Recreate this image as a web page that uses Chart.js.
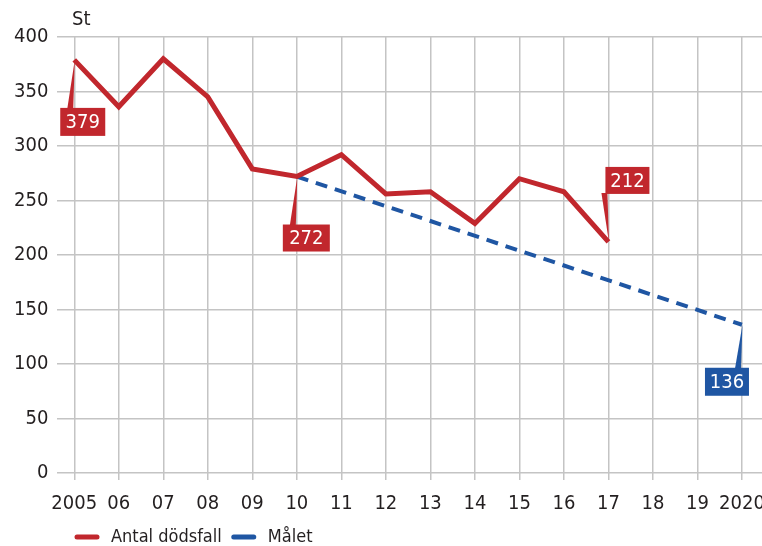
<!DOCTYPE html>
<html lang="sv">
<head>
  <meta charset="UTF-8" />
  <title>Antal dödsfall</title>
  <style>
    body { margin: 0; background: #fff; }
    #wrap { width: 762px; height: 546px; position: relative; }
  </style>
</head>
<body>
<div id="wrap"><canvas id="chart"></canvas></div>
<script src="https://cdn.jsdelivr.net/npm/chart.js"></script>
<script>
  // data
  const deathYears = [2005, 2006, 2007, 2008, 2009, 2010, 2011, 2012, 2013, 2014, 2015, 2016, 2017];
  const deaths = [379, 336, 380, 345, 279, 272, 292, 256, 258, 229, 270, 258, 212];
  const goalYears = [2010, 2020];
  const goal = [272, 136];
  const xTickYears = [2005, 2006, 2007, 2008, 2009, 2010, 2011, 2012, 2013, 2014, 2015, 2016, 2017, 2018, 2019, 2020];
  const xTickLabels = ['2005', '06', '07', '08', '09', '10', '11', '12', '13', '14', '15', '16', '17', '18', '19', '2020'];

  const RED = '#c1272d';
  const BLUE = '#1f56a3';
  const TEXT = '#231f20';
  const FONT = "'Liberation Sans Narrow', 'DejaVu Sans Condensed', sans-serif";

  // callout boxes: which point, box offset from the point, and where the wedge leaves the box
  const callouts = [
    { ds: 0, i: 0, dx: -14, dy: 48, w: 45, h: 28, side: 'top', color: RED },
    { ds: 0, i: 5, dx: -14, dy: 48, w: 47, h: 27, side: 'top', color: RED },
    { ds: 0, i: 12, dx: -3, dy: -75, w: 44, h: 27, side: 'bottom', color: RED },
    { ds: 1, i: 1, dx: -37, dy: 43, w: 44, h: 28, side: 'top', color: BLUE }
  ];

  const calloutPlugin = {
    id: 'callouts',
    afterDatasetsDraw(chart) {
      const ctx = chart.ctx;
      ctx.save();
      callouts.forEach(c => {
        const pt = chart.getDatasetMeta(c.ds).data[c.i];
        const px = pt.x, py = pt.y;
        const bx = px + c.dx, by = py + c.dy;
        ctx.fillStyle = c.color;
        // wedge
        const baseY = c.side === 'top' ? by + 1 : by + c.h - 1;
        const baseX = px - 4;
        ctx.beginPath();
        ctx.moveTo(px + 0.5, py);
        ctx.lineTo(baseX - 3, baseY);
        ctx.lineTo(baseX + 3, baseY);
        ctx.closePath();
        ctx.fill();
        // box
        ctx.fillRect(bx, by, c.w, c.h);
        ctx.fillStyle = '#fff';
        ctx.font = '20px ' + FONT;
        ctx.textAlign = 'center';
        ctx.textBaseline = 'middle';
        const v = chart.data.datasets[c.ds].data[c.i].y;
        ctx.fillText(String(v), bx + c.w / 2, by + c.h / 2 + 1);
      });
      // unit label
      ctx.fillStyle = TEXT;
      ctx.font = '20px ' + FONT;
      ctx.textAlign = 'left';
      ctx.textBaseline = 'middle';
      ctx.fillText('St', 72, 20);

      // legend
      ctx.font = '18px ' + FONT;
      ctx.lineCap = 'round';
      ctx.lineWidth = 5;
      let x = 77;
      const ly = 537;
      chart.data.datasets.forEach(d => {
        ctx.strokeStyle = d.borderColor;
        ctx.beginPath();
        ctx.moveTo(x, ly);
        ctx.lineTo(x + 20, ly);
        ctx.stroke();
        ctx.fillStyle = TEXT;
        ctx.fillText(d.label, x + 34, ly);
        x += 34 + ctx.measureText(d.label).width + 12;
      });
      ctx.restore();
    }
  };

  new Chart(document.getElementById('chart'), {
    type: 'line',
    data: {
      datasets: [
        {
          label: 'Antal dödsfall',
          data: deathYears.map((y, i) => ({ x: y, y: deaths[i] })),
          borderColor: RED,
          backgroundColor: RED,
          borderWidth: 5,
          pointRadius: 0,
          tension: 0,
          borderJoinStyle: 'miter'
        },
        {
          label: 'Målet',
          data: goalYears.map((y, i) => ({ x: y, y: goal[i] })),
          borderColor: BLUE,
          backgroundColor: BLUE,
          borderWidth: 4,
          borderDash: [12, 8],
          pointRadius: 0
        }
      ]
    },
    options: {
      responsive: true,
      maintainAspectRatio: false,
      animation: false,
      layout: { padding: { top: 37, right: 0, left: 5, bottom: 18 } },
      scales: {
        x: {
          type: 'linear',
          min: 2004.62,
          max: 2020.45,
          afterBuildTicks: scale => { scale.ticks = xTickYears.map(v => ({ value: v })); },
          afterFit: scale => { scale.paddingLeft = 0; scale.paddingRight = 0; },
          ticks: {
            autoSkip: false,
            maxRotation: 0,
            padding: 12,
            color: TEXT,
            font: { family: FONT, size: 20 },
            callback: (v, i) => xTickLabels[i]
          },
          grid: { color: '#c4c4c4', lineWidth: 1.5, tickLength: 7 },
          border: { display: false }
        },
        y: {
          min: 0,
          max: 400,
          ticks: {
            stepSize: 50,
            padding: 9,
            color: TEXT,
            font: { family: FONT, size: 20 }
          },
          grid: { color: '#c4c4c4', lineWidth: 1.5, drawTicks: false },
          border: { display: false }
        }
      },
      plugins: {
        tooltip: { enabled: false },
        legend: { display: false }
      }
    },
    plugins: [calloutPlugin]
  });
</script>
</body>
</html>
